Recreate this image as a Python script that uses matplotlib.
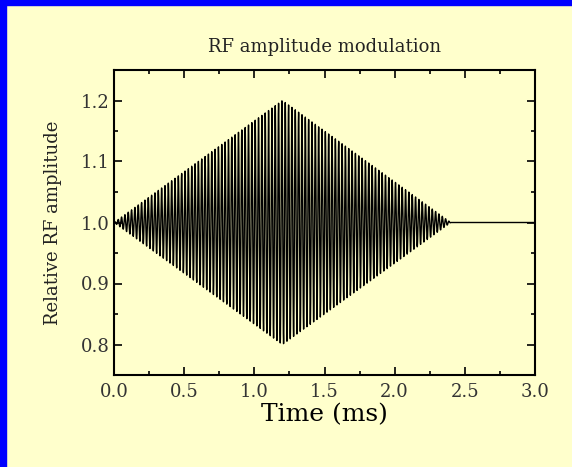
import numpy as np
import matplotlib
matplotlib.use("Agg")
import matplotlib.pyplot as plt
from matplotlib.patches import Rectangle
from matplotlib.ticker import MultipleLocator

# Envelope breakpoints (time in ms, modulation depth)
env_time = [0.0, 1.2, 2.4, 3.0]
env_depth = [0.0, 0.2, 0.0, 0.0]
carrier_khz = 42.0   # approx. cycles per ms counted on the plot
baseline = 1.0

x_ticks = [0.0, 0.5, 1.0, 1.5, 2.0, 2.5, 3.0]
y_ticks = [0.8, 0.9, 1.0, 1.1, 1.2]

bg = "#FFFFCC"
serif = "DejaVu Serif"

t = np.linspace(env_time[0], env_time[-1], 30000)
depth = np.interp(t, env_time, env_depth)
signal = baseline + depth * np.sin(2 * np.pi * carrier_khz * t)

fig = plt.figure(figsize=(5.72, 4.67), dpi=100, facecolor=bg)
ax = fig.add_axes([114 / 572, 1 - 375 / 467, 421 / 572, 305 / 467])
ax.set_facecolor(bg)

ax.plot(t, signal, color="black", lw=1.0)

ax.set_xlim(0, 3.0)
ax.set_ylim(0.75, 1.25)
ax.set_xticks(x_ticks)
ax.set_yticks(y_ticks)
ax.xaxis.set_minor_locator(MultipleLocator(0.25))
ax.yaxis.set_minor_locator(MultipleLocator(0.05))
ax.tick_params(which="both", direction="in", top=True, right=True, width=1.2)
ax.tick_params(which="major", length=6, labelsize=13)
ax.tick_params(axis="x", which="major", pad=6)
ax.tick_params(axis="y", which="major", pad=3)
ax.tick_params(which="minor", length=3)
for s in ax.spines.values():
    s.set_linewidth(1.5)

for lbl in ax.get_xticklabels() + ax.get_yticklabels():
    lbl.set_family(serif)
    lbl.set_color("#333333")

ax.set_title("RF amplitude modulation", family=serif, fontsize=13,
             color="#222222", pad=13)
ax.set_xlabel("Time (ms)", family=serif, fontsize=18, labelpad=1)
ax.set_ylabel("Relative RF amplitude", family=serif, fontsize=13,
              color="#222222", labelpad=14)

# blue frame strips on the left and top
fig.patches.append(Rectangle((0, 0), 6 / 572, 1, transform=fig.transFigure,
                             color="#0000FF", zorder=10))
fig.patches.append(Rectangle((0, 1 - 5 / 467), 1, 5 / 467, transform=fig.transFigure,
                             color="#0000FF", zorder=10))

fig.savefig("out.png", dpi=100, facecolor=bg)
